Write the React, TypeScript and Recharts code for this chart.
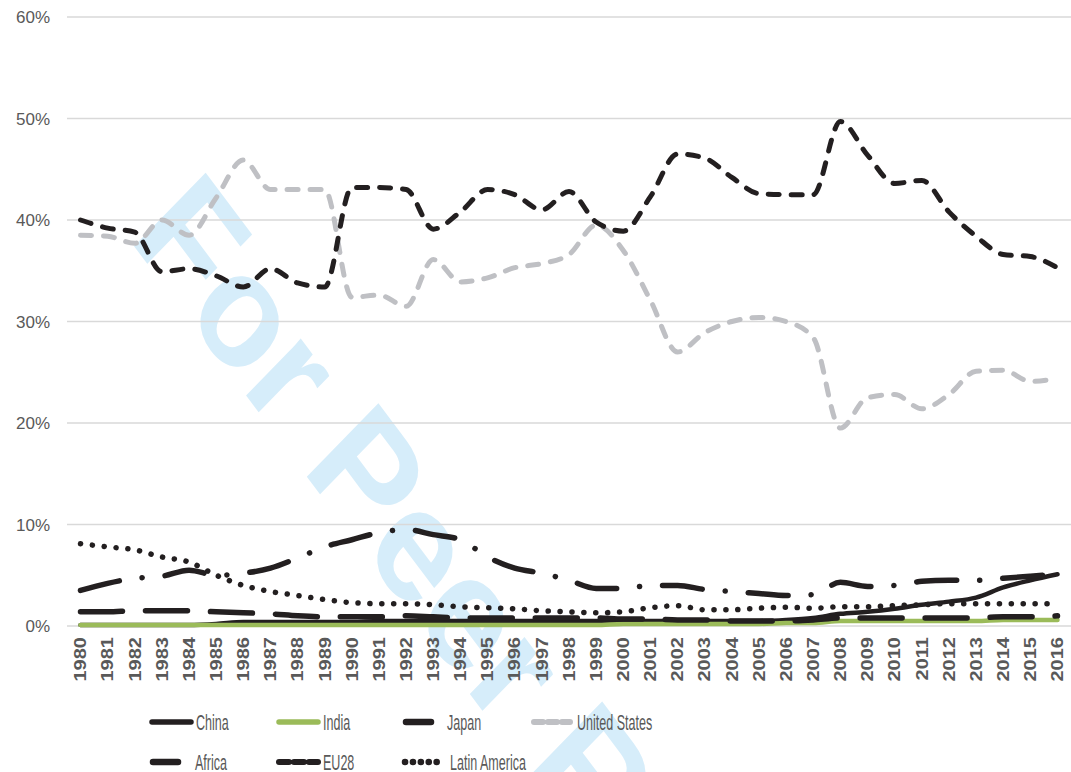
import { LineChart, Line, XAxis, YAxis, CartesianGrid } from "recharts";

const years = [
  1980, 1981, 1982, 1983, 1984, 1985, 1986, 1987, 1988, 1989, 1990, 1991, 1992,
  1993, 1994, 1995, 1996, 1997, 1998, 1999, 2000, 2001, 2002, 2003, 2004, 2005,
  2006, 2007, 2008, 2009, 2010, 2011, 2012, 2013, 2014, 2015, 2016,
];

const china = [
  0.1, 0.1, 0.1, 0.1, 0.1, 0.2, 0.4, 0.4, 0.4, 0.4, 0.4, 0.5, 0.5, 0.5, 0.5, 0.5,
  0.5, 0.5, 0.5, 0.5, 0.5, 0.5, 0.5, 0.5, 0.5, 0.5, 0.6, 0.8, 1.2, 1.4, 1.7, 2.1,
  2.4, 2.8, 3.8, 4.5, 5.1,
];
const india = [
  0.1, 0.1, 0.1, 0.1, 0.1, 0.1, 0.1, 0.1, 0.1, 0.1, 0.1, 0.1, 0.1, 0.1, 0.1, 0.1,
  0.1, 0.1, 0.1, 0.1, 0.2, 0.2, 0.2, 0.2, 0.2, 0.2, 0.3, 0.3, 0.5, 0.5, 0.5, 0.5,
  0.5, 0.5, 0.6, 0.6, 0.6,
];
const japan = [
  3.5, 4.2, 4.7, 4.9, 5.5, 5.0, 5.2, 5.7, 6.7, 7.8, 8.5, 9.2, 9.5, 9.0, 8.5, 6.8,
  5.7, 5.2, 4.5, 3.7, 3.7, 4.0, 4.0, 3.6, 3.4, 3.2, 3.0, 3.1, 4.3, 3.9, 4.0, 4.4,
  4.5, 4.5, 4.7, 4.9, 5.1,
];
const unitedStates = [
  38.5, 38.4, 37.7, 40.0, 38.5, 42.2, 45.9, 43.0, 43.0, 43.0, 32.4, 32.6, 31.5,
  36.1, 33.9, 34.3, 35.3, 35.7, 36.6, 39.5, 37.0, 32.1, 27.0, 28.9, 30.0, 30.4,
  30.0, 28.4, 19.5, 22.5, 22.8, 21.4, 22.8, 25.1, 25.2, 24.1, 24.4,
];
const africa = [
  1.4, 1.4, 1.5, 1.5, 1.5, 1.4, 1.3, 1.2, 1.0, 0.9, 0.9, 0.9, 1.0, 0.9, 0.8, 0.8,
  0.8, 0.8, 0.8, 0.8, 0.7, 0.7, 0.6, 0.6, 0.5, 0.5, 0.5, 0.6, 0.8, 0.8, 0.8, 0.8,
  0.8, 0.8, 0.9, 0.9, 1.0,
];
const eu28 = [
  40.0, 39.2, 38.8, 34.9, 35.2, 34.5, 33.4, 35.2, 33.8, 33.4, 43.2, 43.2, 43.0,
  39.1, 40.8, 43.0, 42.5, 41.0, 42.8, 39.8, 38.9, 42.3, 46.5, 46.1, 44.2, 42.6,
  42.5, 42.5, 49.7, 46.4, 43.6, 43.9, 40.8, 38.4, 36.6, 36.4, 35.3,
];
const latinAmerica = [
  8.1, 7.8, 7.5, 6.8, 6.3, 5.0, 4.0, 3.4, 3.0, 2.6, 2.3, 2.2, 2.2, 2.1, 1.9, 1.8,
  1.7, 1.5, 1.4, 1.3, 1.4, 1.8, 2.0, 1.6, 1.6, 1.75, 1.85, 1.75, 1.9, 1.9, 2.0,
  2.1, 2.2, 2.2, 2.2, 2.2, 2.2,
];

const yTicks = [0, 10, 20, 30, 40, 50, 60];

const BLACK = "#231f20";
const GREY = "#bfc0c4";
const GREEN = "#9bbb59";
const TEXT = "#595959";
const FONT = "Liberation Sans, Arial, sans-serif";

const series = [
  { key: "china", name: "China", values: china, color: BLACK, width: 4.5, dash: undefined },
  { key: "india", name: "India", values: india, color: GREEN, width: 4.5, dash: undefined },
  { key: "japan", name: "Japan", values: japan, color: BLACK, width: 5.5, dash: "40 23 0.1 23" },
  { key: "us", name: "United States", values: unitedStates, color: GREY, width: 5, dash: "11 12" },
  { key: "africa", name: "Africa", values: africa, color: BLACK, width: 5.5, dash: "42 23" },
  { key: "eu28", name: "EU28", values: eu28, color: BLACK, width: 5, dash: "11 12" },
  { key: "latam", name: "Latin America", values: latinAmerica, color: BLACK, width: 5.5, dash: "0.1 11.8" },
];

const data = years.map((year, i) => {
  const row: Record<string, number | string> = { year: String(year) };
  series.forEach((s) => {
    row[s.key] = s.values[i];
  });
  return row;
});

function XTick(props: any) {
  const { x, payload } = props;
  return (
    <text
      transform={`translate(${x},637) rotate(-90) scale(1.25,1)`}
      textAnchor="end"
      dy="0.36em"
      fontSize={16}
      fontWeight="bold"
      fontFamily={FONT}
      fill={TEXT}
    >
      {payload.value}
    </text>
  );
}

function YTick(props: any) {
  const { y, payload } = props;
  return (
    <text x={50} y={y} dy="0.36em" textAnchor="end" fontSize={17} fontFamily={FONT} fill={TEXT}>
      {payload.value}%
    </text>
  );
}

// legend layout: [sample start, sample end, text x, row y, sample dash]
const legendSpots: Record<string, [number, number, number, number, string | undefined]> = {
  china: [152, 191, 196, 722, undefined],
  india: [279, 318, 323, 722, undefined],
  japan: [406, 431, 447, 722, "40 23"],
  us: [534, 570, 577, 722, "9 5"],
  africa: [153, 178, 195, 762, "40 23"],
  eu28: [279, 318, 323, 762, "10 5"],
  latam: [405, 444, 450, 762, "0.1 7.8"],
};

function LegendBlock() {
  return (
    <svg width={1071} height={772} style={{ position: "absolute", left: 0, top: 0 }}>
      {series.map((s) => {
        const [x1, x2, tx, y, dash] = legendSpots[s.key];
        return (
          <g key={s.key}>
            <line
              x1={x1}
              x2={x2}
              y1={y}
              y2={y}
              stroke={s.color}
              strokeWidth={s.width + 1}
              strokeDasharray={dash}
              strokeLinecap="round"
            />
            <text
              transform={`translate(${tx},${y}) scale(0.57,1)`}
              dy="0.36em"
              fontSize={22}
              fontFamily={FONT}
              fill={TEXT}
            >
              {s.name}
            </text>
          </g>
        );
      })}
    </svg>
  );
}

function Watermark() {
  return (
    <svg width={1071} height={772} style={{ position: "absolute", left: 0, top: 0 }}>
      <text
        transform="matrix(0.75 1.0 -0.853 0.876 128 238)"
        fontSize={122}
        fontWeight="bold"
        fontFamily={FONT}
        fill="#d6edfa"
      >
        For Peer Review
      </text>
    </svg>
  );
}

export default function App() {
  return (
    <div
      style={{
        position: "absolute",
        left: 0,
        top: 0,
        width: 1071,
        height: 772,
        background: "#fff",
        overflow: "hidden",
      }}
    >
      <Watermark />
      <div style={{ position: "absolute", left: 0, top: 0 }}>
        <LineChart
          width={1071}
          height={772}
          data={data}
          margin={{ top: 17, right: 0, bottom: 0, left: 0 }}
        >
          <CartesianGrid vertical={false} stroke="#d9d9d9" strokeWidth={1.5} />
          <XAxis
            dataKey="year"
            interval={0}
            height={146}
            axisLine={false}
            tickLine={false}
            padding={{ left: 13.5, right: 13.5 }}
            tick={<XTick />}
          />
          <YAxis
            domain={[0, 60]}
            ticks={yTicks}
            width={67}
            axisLine={false}
            tickLine={false}
            tick={<YTick />}
          />
          {series.map((s) => (
            <Line
              key={s.key}
              dataKey={s.key}
              name={s.name}
              stroke={s.color}
              strokeWidth={s.width}
              strokeDasharray={s.dash}
              strokeLinecap="round"
              type="monotone"
              dot={false}
              activeDot={false}
              isAnimationActive={false}
            />
          ))}
        </LineChart>
      </div>
      <LegendBlock />
    </div>
  );
}
